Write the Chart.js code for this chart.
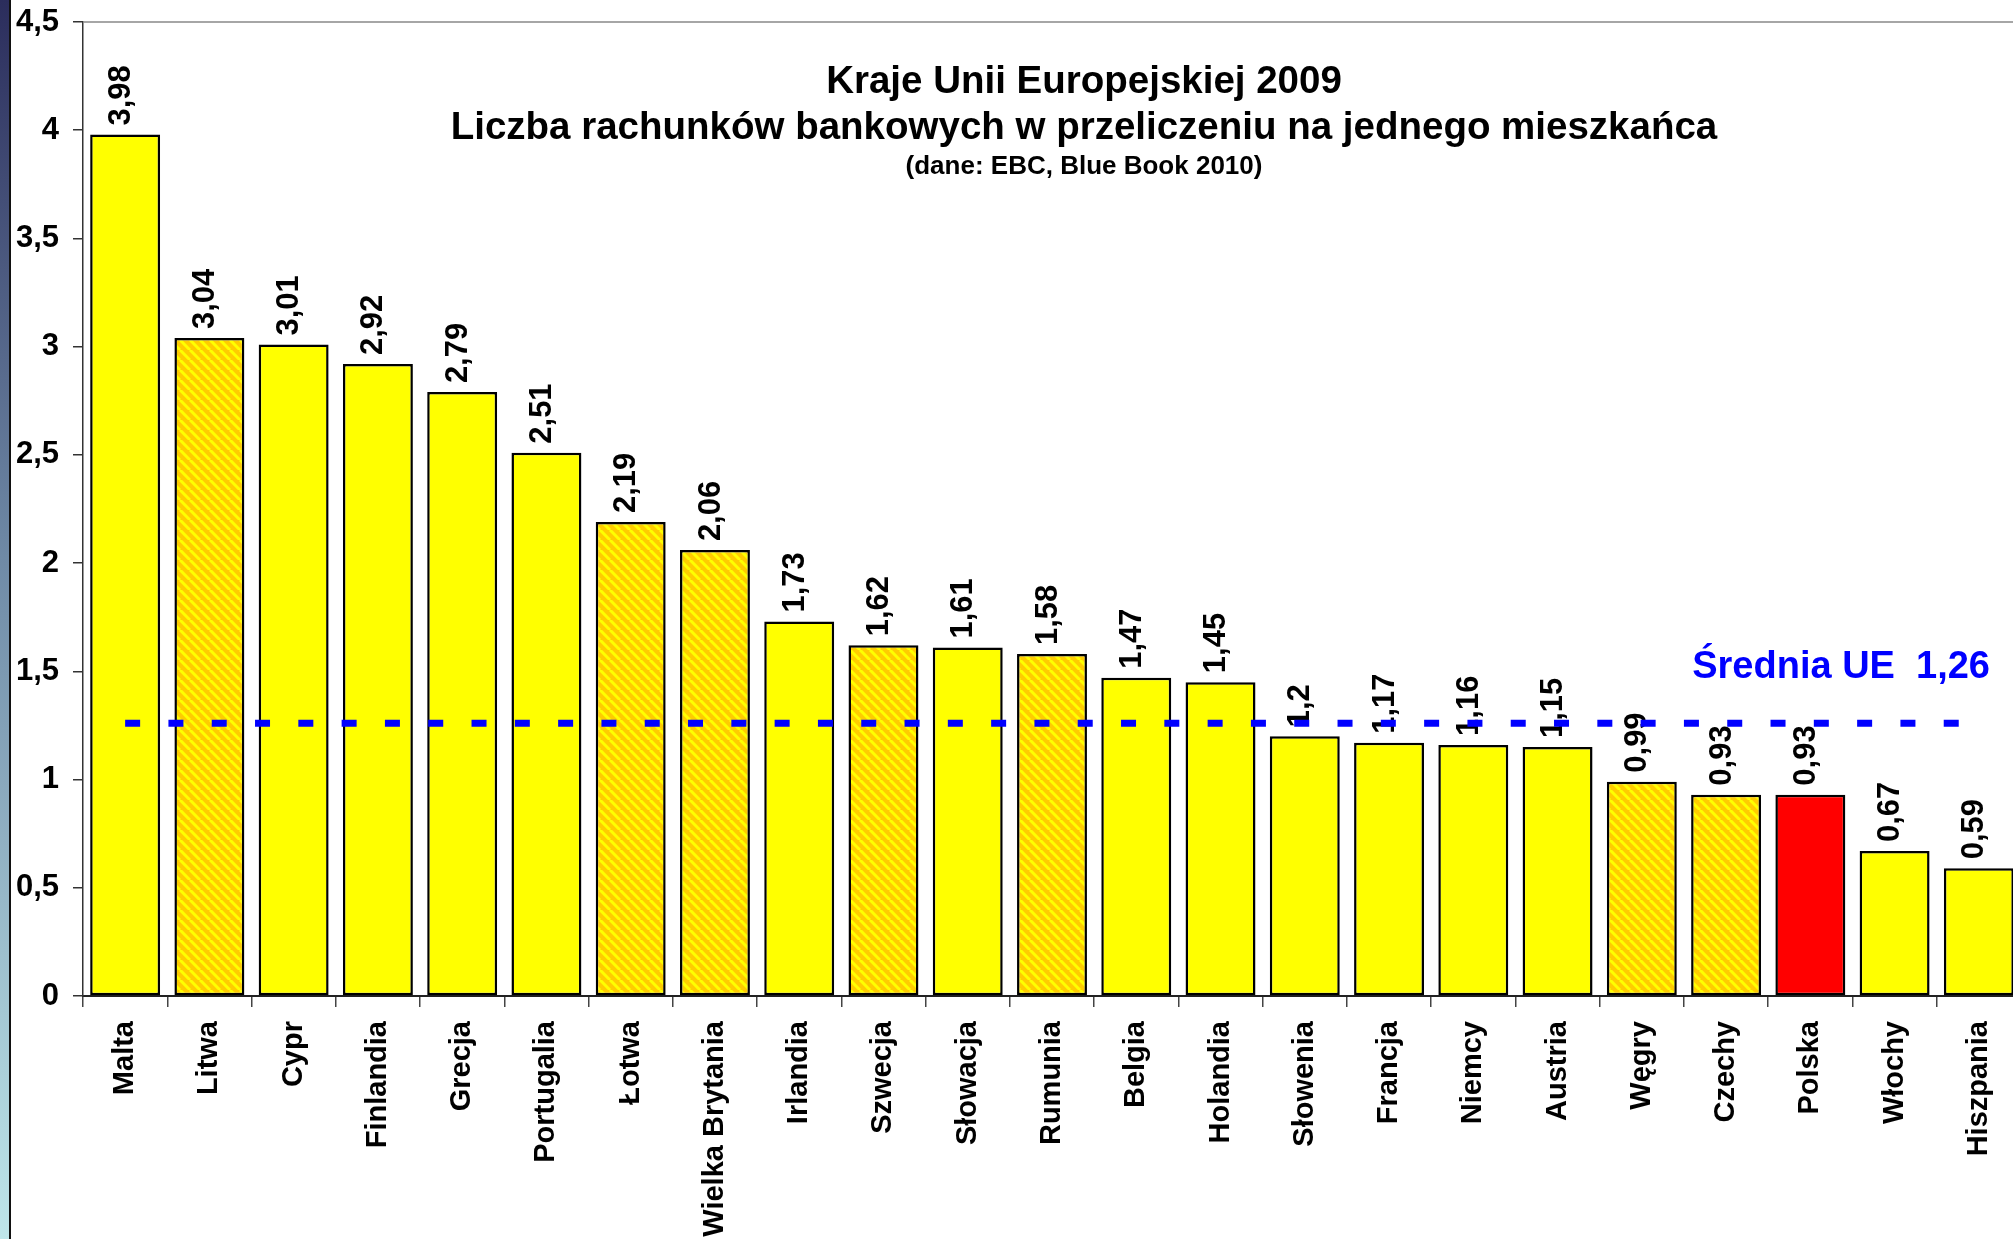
<!DOCTYPE html>
<html>
<head>
<meta charset="utf-8">
<title>Liczba rachunków bankowych</title>
<script src="https://cdn.jsdelivr.net/npm/chart.js@4.4.1/dist/chart.umd.min.js"></script>
<style>
  html, body { margin: 0; padding: 0; background: #fff; overflow: hidden; }
  canvas { display: block; }
</style>
</head>
<body>
<!-- canvas is a bit wider than the window: the last bar is cut at the right edge like in the original -->
<canvas id="accountsChart" width="2021" height="1239"></canvas>
<script>
// data (dane: EBC, Blue Book 2010)
const countries = ['Malta', 'Litwa', 'Cypr', 'Finlandia', 'Grecja', 'Portugalia', 'Łotwa', 'Wielka Brytania',
  'Irlandia', 'Szwecja', 'Słowacja', 'Rumunia', 'Belgia', 'Holandia', 'Słowenia', 'Francja', 'Niemcy',
  'Austria', 'Węgry', 'Czechy', 'Polska', 'Włochy', 'Hiszpania'];
const accountsPerCapita = [3.98, 3.04, 3.01, 2.92, 2.79, 2.51, 2.19, 2.06, 1.73, 1.62, 1.61, 1.58, 1.47, 1.45,
  1.2, 1.17, 1.16, 1.15, 0.99, 0.93, 0.93, 0.67, 0.59];
const euAverage = 1.26;
const yTicks = [0, 0.5, 1, 1.5, 2, 2.5, 3, 3.5, 4, 4.5];

const titleLines = ['Kraje Unii Europejskiej 2009', 'Liczba rachunków bankowych w przeliczeniu na jednego mieszkańca', '(dane: EBC, Blue Book 2010)'];
const avgLabel = 'Średnia UE  1,26';

// which bars get the hatched fill / red fill
const hatched = ['Litwa', 'Łotwa', 'Wielka Brytania', 'Szwecja', 'Rumunia', 'Węgry', 'Czechy'];
const highlighted = 'Polska';

const FONT = "'Liberation Sans', Arial, sans-serif";
Chart.defaults.font.family = FONT;
Chart.defaults.color = '#000';

function fmt(v) {
  return String(Math.round(v * 100) / 100).replace('.', ',');
}

function hatchPattern() {
  const s = 10;
  const c = document.createElement('canvas');
  c.width = s; c.height = s;
  const g = c.getContext('2d');
  g.fillStyle = '#ffcc00';
  g.fillRect(0, 0, s, s);
  g.strokeStyle = '#ffff00';
  g.lineWidth = 3;
  for (const k of [-s, 0, s]) {
    g.beginPath();
    g.moveTo(k, 0);
    g.lineTo(k + s, s);
    g.stroke();
  }
  return g.createPattern(c, 'repeat');
}

const hatch = hatchPattern();
const barColors = countries.map(c => c === highlighted ? '#ff0000' : (hatched.includes(c) ? hatch : '#ffff00'));

const decorPlugin = {
  id: 'decor',
  beforeDraw(chart) {
    const ctx = chart.ctx;
    const h = chart.height;
    ctx.save();
    ctx.fillStyle = '#fff';
    ctx.fillRect(0, 0, chart.width, h);
    const grad = ctx.createLinearGradient(0, 0, 0, h);
    grad.addColorStop(0, '#2b2d5c');
    grad.addColorStop(0.45, '#6f8aa6');
    grad.addColorStop(1, '#bfe6ea');
    ctx.fillStyle = grad;
    ctx.fillRect(0, 0, 10, h);
    ctx.fillStyle = '#111';
    ctx.fillRect(9, 0, 2, h);
    ctx.restore();
  },
  afterDatasetsDraw(chart) {
    const ctx = chart.ctx;
    const area = chart.chartArea;
    const x = chart.scales.x;
    const y = chart.scales.y;
    ctx.save();

    // top frame line
    ctx.strokeStyle = '#888';
    ctx.lineWidth = 1.5;
    ctx.beginPath();
    ctx.moveTo(area.left, area.top);
    ctx.lineTo(chart.width, area.top);
    ctx.stroke();

    // values above bars
    ctx.fillStyle = '#000';
    ctx.font = 'bold 31px ' + FONT;
    ctx.textAlign = 'left';
    ctx.textBaseline = 'middle';
    chart.getDatasetMeta(0).data.forEach((bar, i) => {
      ctx.save();
      ctx.translate(bar.x - 4, bar.y - 9);
      ctx.rotate(-Math.PI / 2);
      ctx.fillText(fmt(accountsPerCapita[i]), 0, 0);
      ctx.restore();
    });

    // EU average dashed line
    const yAvg = y.getPixelForValue(euAverage);
    ctx.strokeStyle = '#0000ff';
    ctx.lineWidth = 7;
    ctx.setLineDash([15, 28.3]);
    ctx.beginPath();
    ctx.moveTo(x.getPixelForValue(0), yAvg);
    ctx.lineTo(x.getPixelForValue(countries.length - 1) - 18, yAvg);
    ctx.stroke();
    ctx.setLineDash([]);

    ctx.fillStyle = '#0000ff';
    ctx.font = 'bold 38px ' + FONT;
    ctx.textAlign = 'right';
    ctx.textBaseline = 'middle';
    ctx.fillText(avgLabel, 1990, yAvg - 56);

    // title block
    const cx = 1084;
    ctx.fillStyle = '#000';
    ctx.textAlign = 'center';
    ctx.font = 'bold 38.5px ' + FONT;
    ctx.fillText(titleLines[0], cx, area.top + 60);
    ctx.fillText(titleLines[1], cx, area.top + 106);
    ctx.font = 'bold 26px ' + FONT;
    ctx.fillText(titleLines[2], cx, area.top + 145);
    ctx.restore();
  }
};

const ctx = document.getElementById('accountsChart').getContext('2d');
new Chart(ctx, {
  type: 'bar',
  data: {
    labels: countries,
    datasets: [{
      data: accountsPerCapita,
      backgroundColor: barColors,
      borderColor: '#000',
      borderWidth: 2.5,
      borderSkipped: false,
      barPercentage: 0.83,
      categoryPercentage: 1.0
    }]
  },
  options: {
    responsive: false,
    devicePixelRatio: 1,
    animation: false,
    layout: { padding: { left: 13, top: 22, right: 0, bottom: 0 } },
    plugins: {
      legend: { display: false },
      tooltip: { enabled: false },
      title: { display: false }
    },
    scales: {
      x: {
        grid: { drawOnChartArea: false, color: '#444', lineWidth: 1.5, tickLength: 11, offset: true },
        border: { color: '#222', width: 2 },
        ticks: {
          autoSkip: false,
          minRotation: 90,
          maxRotation: 90,
          padding: 14,
          font: { size: 29, weight: 'bold' }
        },
        afterFit(scale) {
          scale.height = 243;
          scale.paddingLeft = 0;
          scale.paddingRight = 0;
        }
      },
      y: {
        min: 0,
        max: 4.5,
        afterBuildTicks(scale) {
          scale.ticks = yTicks.map(v => ({ value: v }));
        },
        grid: { drawOnChartArea: false, color: '#333', lineWidth: 1.5, tickLength: 10 },
        border: { color: '#333', width: 1.5 },
        ticks: {
          padding: 14,
          font: { size: 31, weight: 'bold' },
          callback: v => fmt(v)
        },
        afterFit(scale) {
          scale.width = 70;
          scale.paddingTop = 0;
          scale.paddingBottom = 0;
        }
      }
    }
  },
  plugins: [decorPlugin]
});
</script>
</body>
</html>
